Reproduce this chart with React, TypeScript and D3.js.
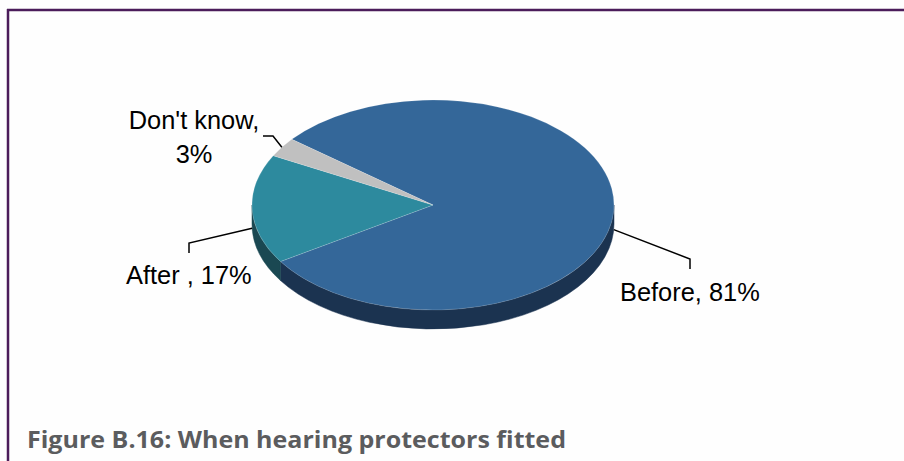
import React from "react";
import * as d3 from "d3";

const categories = ["Before", "After ", "Don't know"];
const values = [81, 17, 3];
const labelTexts = [["Before, 81%"], ["After , 17%"], ["Don't know,", "3%"]];
const topColors = ["#346799", "#2d8a9e", "#c0c0c0"];
const sideColors = ["#1b3350", "#1a4852", "#8a8a8a"];
const title = "Figure B.16: When hearing protectors fitted";

const W = 904;
const H = 461;
const cx = 433;
const cy = 205;
const rx = 181;
const ry = 105;
const depth = 19;
const startAngle = -0.895;

// label layout: elbow point, tick end, text anchor point
const labelLayout = [
  { elbow: [690, 259], tick: [690, 269], text: [620, 301], anchor: "start" },
  { elbow: [189, 243], tick: [189, 253], text: [126, 284], anchor: "start" },
  { elbow: [273, 136], tick: [263, 136], text: [194, 128.5], anchor: "middle" },
];

const pt = (s: number, dy = 0): [number, number] => [cx + rx * Math.cos(s), cy + ry * Math.sin(s) + dy];

function topPath(a0: number, a1: number) {
  const s0 = a0 - Math.PI / 2;
  const s1 = a1 - Math.PI / 2;
  const p0 = pt(s0);
  const p1 = pt(s1);
  const large = a1 - a0 > Math.PI ? 1 : 0;
  return `M${cx},${cy}L${p0[0]},${p0[1]}A${rx},${ry} 0 ${large} 1 ${p1[0]},${p1[1]}Z`;
}

function sidePaths(a0: number, a1: number) {
  const s0 = a0 - Math.PI / 2;
  const s1 = a1 - Math.PI / 2;
  const out: string[] = [];
  for (const k of [-2, -1, 0, 1, 2]) {
    const lo = Math.max(s0, k * 2 * Math.PI);
    const hi = Math.min(s1, k * 2 * Math.PI + Math.PI);
    if (hi > lo + 1e-6) {
      const p0 = pt(lo);
      const p1 = pt(hi);
      const q1 = pt(hi, depth);
      const q0 = pt(lo, depth);
      out.push(
        `M${p0[0]},${p0[1]}A${rx},${ry} 0 0 1 ${p1[0]},${p1[1]}L${q1[0]},${q1[1]}A${rx},${ry} 0 0 0 ${q0[0]},${q0[1]}Z`
      );
    }
  }
  return out;
}

export default function App() {
  const pie = d3
    .pie<number>()
    .sort(null)
    .value((d) => d)
    .startAngle(startAngle)
    .endAngle(startAngle + 2 * Math.PI);
  const arcs = pie(values);

  return (
    <svg
      width={W}
      height={H}
      style={{ position: "absolute", left: 0, top: 0, background: "#fefefe" }}
      fontFamily="'Liberation Sans', Arial, sans-serif"
    >
      <rect x={0} y={0} width={W} height={H} fill="#fefefe" />
      <line x1={7} x2={W} y1={10} y2={10} stroke="#4b1c5a" strokeWidth={2.5} />
      <line x1={8} x2={8} y1={9} y2={H} stroke="#4b1c5a" strokeWidth={2.5} />

      {arcs.map((a, i) =>
        sidePaths(a.startAngle, a.endAngle).map((d, j) => (
          <path key={`s${i}-${j}`} d={d} fill={sideColors[i]} stroke={sideColors[i]} strokeWidth={0.5} />
        ))
      )}
      {arcs.map((a, i) => (
        <path
          key={`t${i}`}
          d={topPath(a.startAngle, a.endAngle)}
          fill={topColors[i]}
          stroke="rgba(255,255,255,0.25)"
          strokeWidth={0.6}
        />
      ))}

      {arcs.map((a, i) => {
        const mid = (a.startAngle + a.endAngle) / 2 - Math.PI / 2;
        const front = Math.sin(mid) > 0;
        const p = pt(mid, front ? depth : 0);
        const L = labelLayout[i];
        return (
          <g key={`l${i}`}>
            <polyline
              points={`${p[0]},${p[1]} ${L.elbow[0]},${L.elbow[1]} ${L.tick[0]},${L.tick[1]}`}
              fill="none"
              stroke="#000"
              strokeWidth={1.5}
            />
            <text
              x={L.text[0]}
              y={L.text[1]}
              fontSize={25.4}
              textAnchor={L.anchor}
              fill="#000"
              aria-label={categories[i]}
            >
              {labelTexts[i].map((t, k) => (
                <tspan key={k} x={L.text[0]} dy={k === 0 ? 0 : 34.5}>
                  {t}
                </tspan>
              ))}
            </text>
          </g>
        );
      })}

      <text
        x={27}
        y={448}
        fontFamily="'Open Sans', sans-serif"
        fontWeight={700}
        fontSize={23.4}
        fill="#5b5c5e"
        textLength={539}
        lengthAdjust="spacingAndGlyphs"
      >
        {title}
      </text>
    </svg>
  );
}
